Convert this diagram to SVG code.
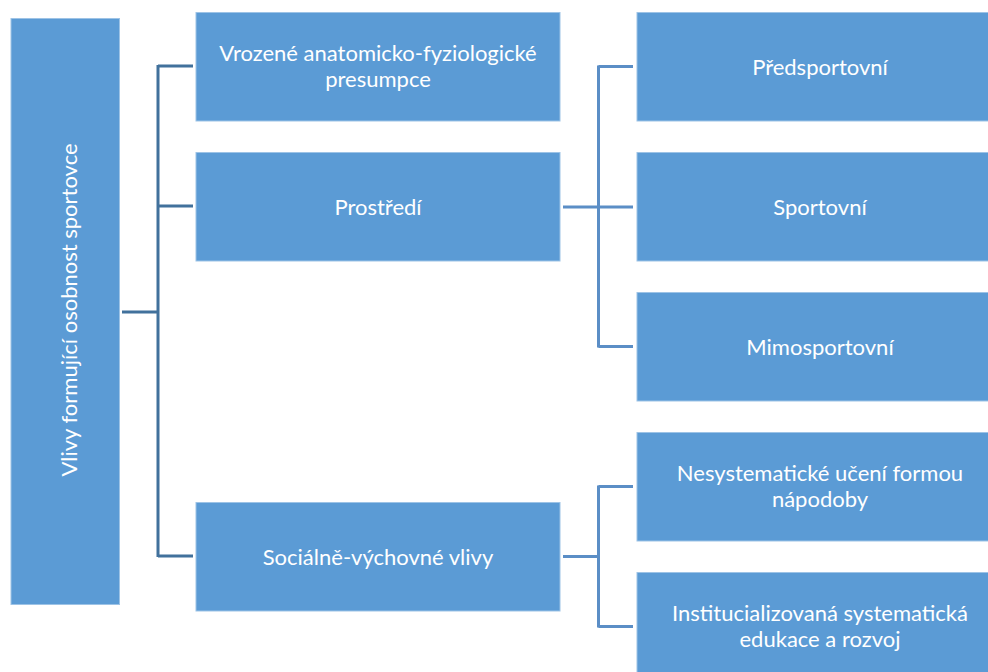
<svg xmlns="http://www.w3.org/2000/svg" width="988" height="672" viewBox="0 0 988 672">
<style>
.box{fill:#5B9BD5;stroke:#9DC3E6;stroke-width:1}
.t{font-family:Lato,"Liberation Sans",sans-serif;font-size:22px;fill:#ffffff;text-anchor:middle}
.c1{fill:none;stroke:#41719C;stroke-width:3}
.c2{fill:none;stroke:#5B8EC6;stroke-width:3}
</style>
<rect width="988" height="672" fill="#ffffff"/>
<g id="connectors">
<path class="c1" d="M122,312 H158 M158,65 V557 M158,66 H193 M158,206 H193 M158,556 H193"/>
<path class="c2" d="M563,207 H633 M598.5,65.5 V347.5 M598.5,66.5 H633 M598.5,346.5 H633"/>
<path class="c2" d="M563,556.5 H598.5 M598.5,485.5 V627.5 M598.5,486.5 H633 M598.5,626.5 H633"/>
</g>
<g id="root">
<rect class="box" x="11" y="18.5" width="108.5" height="586"/>
<text class="t" transform="translate(77,310) rotate(-90)" x="0" y="0">Vlivy formující osobnost sportovce</text>
</g>
<g id="n1">
<rect class="box" x="196" y="12.5" width="364" height="108.5"/>
<text class="t" x="378" y="61">Vrozené anatomicko-fyziologické</text>
<text class="t" x="378" y="87">presumpce</text>
</g>
<g id="n2">
<rect class="box" x="196" y="152.5" width="364" height="108.5"/>
<text class="t" x="378" y="215">Prostředí</text>
</g>
<g id="n3">
<rect class="box" x="196" y="502.5" width="364" height="108.5"/>
<text class="t" x="378" y="565">Sociálně-výchovné vlivy</text>
</g>
<g id="r1">
<rect class="box" x="637" y="12.5" width="360" height="108.5"/>
<text class="t" x="820" y="75">Předsportovní</text>
</g>
<g id="r2">
<rect class="box" x="637" y="152.5" width="360" height="108.5"/>
<text class="t" x="820" y="215">Sportovní</text>
</g>
<g id="r3">
<rect class="box" x="637" y="292.5" width="360" height="108.5"/>
<text class="t" x="820" y="355">Mimosportovní</text>
</g>
<g id="r4">
<rect class="box" x="637" y="432.5" width="360" height="108.5"/>
<text class="t" x="820" y="481">Nesystematické učení formou</text>
<text class="t" x="820" y="507">nápodoby</text>
</g>
<g id="r5">
<rect class="box" x="637" y="572.5" width="360" height="108.5"/>
<text class="t" x="820" y="621">Institucializovaná systematická</text>
<text class="t" x="820" y="647">edukace a rozvoj</text>
</g>
</svg>
